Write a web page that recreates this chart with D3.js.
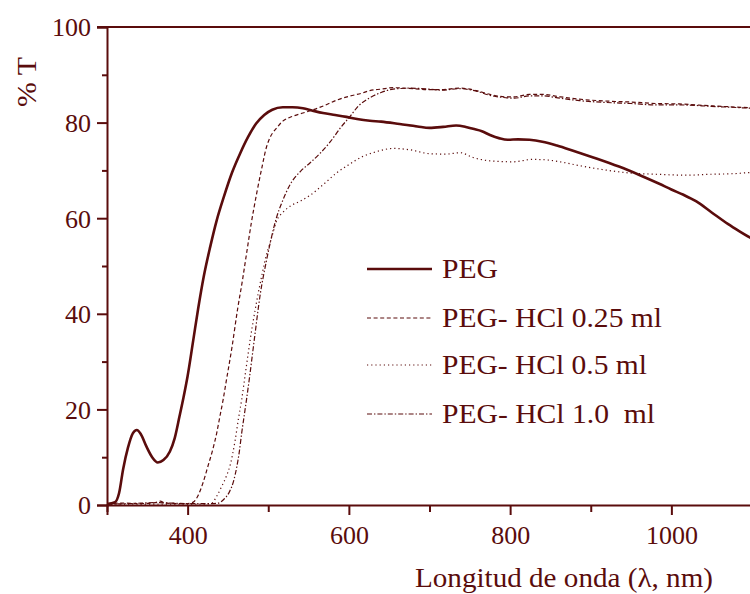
<!DOCTYPE html>
<html>
<head>
<meta charset="utf-8">
<script src="https://cdn.jsdelivr.net/npm/d3@7"></script>
<style>
  html, body { margin: 0; padding: 0; background: #ffffff; }
  svg { display: block; }
  text { font-family: "Liberation Serif", "Times New Roman", serif; fill: #5a0c0c; }
</style>
</head>
<body>
<svg id="chart" width="750" height="594"></svg>
<script>
// Transmittance spectra (wavelength in nm, %T)
const pegWl = [300,310,315,320,326,332,337,342,349,356,363,370,378,384,390,395,400,407,413,420,428,436,445,455,465,475,485,495,505,518,530,543,555,568,583,597,612,626,640,663,685,700,717,733,745,754,765,775,787,797,810,824,840,858,880,907,935,961,985,1000,1015,1031,1050,1070,1085,1100];
const pegT  = [0.2,0.6,2.5,7.5,12,15,15.7,14.8,12.2,10,8.9,9.4,11.2,14,18.6,22.6,27,34.5,41,47.8,54,59.5,64.5,69.5,73.5,77,79.8,81.6,82.7,83.2,83.2,83,82.5,82,81.6,81.2,80.7,80.4,80.2,79.7,79.2,78.9,79.1,79.4,79.1,78.7,78.2,77.4,76.7,76.4,76.5,76.4,76,75.2,74,72.5,70.8,69,67.2,66,64.9,63.5,61.2,58.8,57.2,55.7];

const hcl025Wl = [300,320,340,360,366,372,390,400,407,413,419,425,431,436,440,444,448,455,462,468,473,479,486,492,498,502,510,518,530,543,556,570,585,600,617,626,640,655,680,700,715,738,758,775,795,805,824,840,862,886,920,950,980,1010,1050,1100];
const hcl025T  = [0.3,0.4,0.3,0.5,0.8,0.4,0.3,0.3,0.6,2,4.6,8,11.5,15,18.5,22,26,33,41,47,52.5,59,65.5,70.5,75,76.8,78.8,80.3,81.3,82,82.7,83.6,84.7,85.5,86.2,86.7,87,87.3,87.1,86.9,86.9,87.2,86.7,85.9,85.4,85.4,85.9,85.9,85.4,84.9,84.5,84.3,84,83.9,83.5,83.1];

const hcl05Wl = [300,340,380,420,430,436,442,448,453,459,463,467,472,478,485,492,498,502,506,510,518,527,540,552,568,585,600,617,630,645,655,676,700,720,738,754,775,804,828,845,862,886,910,952,980,1019,1050,1075,1100];
const hcl05T  = [0.1,0.2,0.2,0.2,0.4,1.8,3.8,6,8.5,13.6,18,22,28,35,42,48,52.5,54.7,57,59.3,61.2,62.5,63.6,64.8,67,69.5,71.2,72.9,73.7,74.4,74.6,74.3,73.5,73.4,73.7,72.7,72,71.8,72.3,72.2,71.8,71,70.3,69.4,69.2,69,69.2,69.3,69.6];

const hcl10Wl = [300,330,360,400,430,438,445,452,457,461,464,467,470,473,477,483,490,498,504,510,517,527,540,552,565,577,590,601,612,626,640,655,676,700,715,738,758,775,795,805,824,840,862,886,920,950,980,1010,1050,1100];
const hcl10T  = [0.2,0.3,0.5,0.3,0.3,0.4,1.2,2.8,5,8,11,15,18.5,22,27,35,44,51.3,56,60,63.3,67,69.8,71.6,73.7,76,79,81.2,83.5,85.2,86.3,87,87.2,87,86.8,87.1,86.6,85.7,85.2,85.1,85.6,85.6,85.1,84.6,84.2,84,83.7,83.7,83.4,83];

const seriesNames = ["PEG", "PEG- HCl 0.25 ml", "PEG- HCl 0.5 ml", "PEG- HCl 1.0  ml"];
const yTicks = [0, 20, 40, 60, 80, 100];
const xTicks = [400, 600, 800, 1000];

const ink = "#5a0c0c";
const series = [
  { name: seriesNames[0], wl: pegWl,    t: pegT,    width: 2.6, dash: null,        textW: 56 },
  { name: seriesNames[1], wl: hcl025Wl, t: hcl025T, width: 1.2, dash: "4,2.6",     textW: 220 },
  { name: seriesNames[2], wl: hcl05Wl,  t: hcl05T,  width: 1.2, dash: "1.2,3",     textW: 205 },
  { name: seriesNames[3], wl: hcl10Wl,  t: hcl10T,  width: 1.2, dash: "5,2,1.4,2", textW: 213 }
];

const svg = d3.select("#chart");
const plotL = 107, plotR = 752, plotT = 27, plotB = 505;

const x = d3.scaleLinear().domain([300, 1100]).range([plotL, plotR]);
const y = d3.scaleLinear().domain([0, 100]).range([plotB, plotT]);

// frame line along the top
svg.append("line")
  .attr("x1", plotL - 10).attr("x2", 750).attr("y1", plotT).attr("y2", plotT)
  .attr("stroke", ink).attr("stroke-width", 2);

// left axis: labelled majors and unlabelled minors
const yAxis = d3.axisLeft(y).tickValues(yTicks).tickSize(10).tickPadding(6).tickFormat(d3.format("d"));
const yMinor = d3.axisLeft(y).tickValues(d3.range(10, 100, 20)).tickSize(5).tickFormat("");
const gy = svg.append("g").attr("transform", `translate(${plotL},0)`).call(yAxis);
svg.append("g").attr("transform", `translate(${plotL},0)`).call(yMinor).select(".domain").remove();

// bottom axis
const xAxis = d3.axisBottom(x).tickValues(xTicks).tickSize(10).tickPadding(4).tickFormat(d3.format("d"));
const xMinor = d3.axisBottom(x).tickValues([300, 500, 700, 900]).tickSize(7).tickFormat("");
const gx = svg.append("g").attr("transform", `translate(0,${plotB})`).call(xAxis);
svg.append("g").attr("transform", `translate(0,${plotB})`).call(xMinor).select(".domain").remove();

svg.selectAll(".domain").attr("stroke", ink).attr("stroke-width", 2);
svg.selectAll(".tick line").attr("stroke", ink).attr("stroke-width", 2);
svg.selectAll(".tick text").style("font-size", "26px").attr("fill", ink)
  .style("font-family", "'Liberation Serif', serif");
gy.selectAll(".tick text").attr("dy", "0.34em");
gx.selectAll(".tick text").attr("dy", "0.95em");

// spectra
const line = d3.line().x(d => x(d[0])).y(d => y(d[1])).curve(d3.curveMonotoneX);
svg.append("defs").append("clipPath").attr("id", "plot")
  .append("rect").attr("x", plotL).attr("y", plotT - 5).attr("width", plotR - plotL).attr("height", plotB - plotT + 5);

const plot = svg.append("g").attr("clip-path", "url(#plot)");
series.slice().reverse().forEach(s => {
  plot.append("path")
    .datum(d3.zip(s.wl, s.t))
    .attr("d", line)
    .attr("fill", "none")
    .attr("stroke", ink)
    .attr("stroke-width", s.width)
    .attr("stroke-dasharray", s.dash)
    .attr("stroke-linejoin", "round");
});

// legend
const legendY = [269, 318, 365, 414];
series.forEach((s, i) => {
  svg.append("line")
    .attr("x1", 367).attr("x2", 432).attr("y1", legendY[i]).attr("y2", legendY[i])
    .attr("stroke", ink).attr("stroke-width", s.width)
    .attr("stroke-dasharray", s.dash);
  svg.append("text")
    .attr("x", 442).attr("y", legendY[i] + 9)
    .attr("textLength", s.textW).attr("lengthAdjust", "spacingAndGlyphs")
    .style("font-size", "28px")
    .style("white-space", "pre")
    .text(s.name);
});

// axis titles
svg.append("text")
  .attr("x", 415).attr("y", 587)
  .attr("textLength", 298).attr("lengthAdjust", "spacingAndGlyphs")
  .style("font-size", "27px")
  .text("Longitud de onda (λ, nm)");

svg.append("text")
  .attr("transform", "translate(36,107) rotate(-90)")
  .attr("textLength", 50).attr("lengthAdjust", "spacingAndGlyphs")
  .style("font-size", "28px")
  .text("% T");
</script>
</body>
</html>
